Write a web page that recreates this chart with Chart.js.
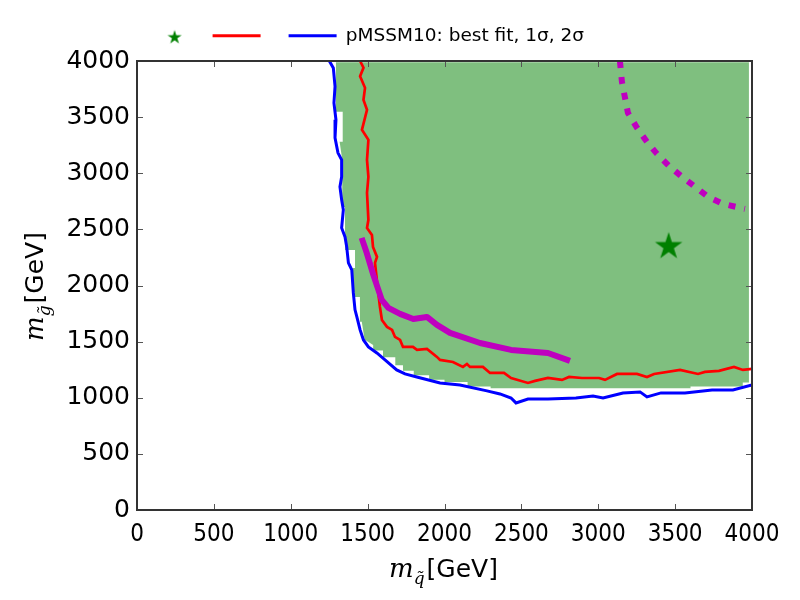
<!DOCTYPE html>
<html>
<head>
<meta charset="utf-8">
<script src="https://cdn.jsdelivr.net/npm/chart.js@4.4.1/dist/chart.umd.min.js"></script>
<style>html,body{margin:0;padding:0;background:#fff}</style>
</head>
<body>
<canvas id="chart" width="800" height="600"></canvas>
<script>
	// axis ticks (GeV)
	var tickValues = [ 0, 500, 1000, 1500, 2000, 2500, 3000, 3500, 4000 ];

	// best fit point
	var bestFit = [ [ 3458, 2347 ] ];

	// 1 sigma contour
	var sigma1 = [ [1451,4000],[1473,3940],[1451,3865],[1483,3761],[1473,3654],[1496,3565],[1463,3387],[1505,3298],
		[1496,3119],[1505,2968],[1496,2825],[1505,2585],[1496,2513],[1528,2451],[1535,2344],[1561,2255],[1548,2201],
		[1567,1961],[1580,1809],[1593,1693],[1626,1631],[1659,1604],[1678,1542],[1711,1515],[1730,1453],[1795,1453],
		[1821,1426],[1886,1435],[1951,1364],[1971,1337],[2055,1319],[2120,1275],[2146,1301],[2166,1275],[2250,1275],
		[2296,1221],[2387,1221],[2433,1176],[2543,1132],[2589,1150],[2673,1176],[2764,1159],[2810,1185],[2894,1176],
		[3005,1176],[3044,1159],[3122,1212],[3252,1212],[3317,1185],[3363,1212],[3532,1248],[3649,1212],[3694,1230],
		[3785,1239],[3883,1275],[3941,1248],[4000,1257] ];

	// 2 sigma contour
	var sigma2 = [ [1251,4000],[1277,3937],[1288,3773],[1281,3627],[1294,3476],[1288,3316],[1307,3182],[1331,3119],
		[1331,2968],[1320,2879],[1331,2763],[1342,2674],[1331,2513],[1353,2433],[1364,2344],[1375,2201],[1397,2139],
		[1407,1934],[1418,1783],[1430,1720],[1451,1604],[1473,1515],[1505,1453],[1560,1399],[1613,1337],[1689,1248],
		[1743,1212],[1820,1185],[1971,1132],[2101,1114],[2276,1061],[2361,1034],[2433,998],[2465,954],[2543,989],
		[2673,989],[2855,998],[2966,1016],[3031,998],[3161,1043],[3272,1052],[3317,1007],[3408,1043],[3564,1043],
		[3740,1070],[3876,1070],[4000,1114] ];

	// shaded allowed region
	var allowedRegion = [ [1294,3988],[1294,3547],[1338,3547],[1338,3280],[1318,3280],[1335,3119],[1335,2700],
		[1353,2700],[1353,2317],[1418,2317],[1418,2157],[1400,2157],[1410,1898],[1450,1898],[1450,1676],[1462,1676],
		[1480,1520],[1536,1470],[1536,1420],[1600,1420],[1600,1360],[1680,1360],[1680,1290],[1730,1290],[1730,1240],
		[1800,1240],[1800,1200],[1900,1200],[1900,1160],[2000,1160],[2000,1140],[2150,1140],[2150,1100],[2300,1100],
		[2300,1085],[3600,1085],[3600,1100],[3940,1100],[3940,1135],[3980,1135],[3980,3988] ];

	// exclusion curves
	var limitSolid = [ [1461,2424],[1494,2291],[1537,2095],[1592,1872],[1635,1800],[1711,1747],[1797,1702],[1886,1720],
		[1951,1649],[2036,1578],[2231,1488],[2433,1426],[2673,1399],[2816,1328] ];
	var limitDashed = [ [3141,4000],[3154,3815],[3174,3672],[3193,3538],[3252,3405],[3317,3280],[3382,3173],[3460,3066],
		[3545,2968],[3629,2879],[3714,2790],[3811,2727],[3922,2692],[3954,2683] ];

	var legendText = 'pMSSM10: best fit, 1σ, 2σ\u2003\u2002\u2009';

	function makeStar(R, shift, dy) {
		var c = document.createElement('canvas');
		var half = Math.ceil(R + Math.abs(shift) + 1);
		c.width = 2 * half;
		c.height = 2 * Math.ceil(R + Math.abs(dy) + 1);
		var g = c.getContext('2d');
		var cx = half + shift, cy = c.height / 2 + dy;
		g.beginPath();
		for (var i = 0; i < 10; i++) {
			var r = i % 2 ? R * 0.382 : R;
			var a = -Math.PI / 2 + i * Math.PI / 5;
			g.lineTo(cx + r * Math.cos(a), cy + r * Math.sin(a));
		}
		g.closePath();
		g.fillStyle = '#008000';
		g.fill();
		return c;
	}
	var bigStar = makeStar(14.4, 0, 0);
	var smallStar = makeStar(7.4, 14, 1.7);

	function drawAxisLabel(ctx, x, y, rot, sub) {
		ctx.save();
		ctx.translate(x, y);
		ctx.rotate(rot);
		ctx.fillStyle = '#000';
		ctx.textAlign = 'left';
		ctx.textBaseline = 'alphabetic';
		ctx.font = 'italic 26px "DejaVu Serif"';
		ctx.fillText('m', 0, 0);
		var w = ctx.measureText('m').width;
		ctx.font = 'italic 17px "DejaVu Serif"';
		ctx.fillText(sub, w, 7);
		w += ctx.measureText(sub).width + 2;
		ctx.font = '25px "DejaVu Sans"';
		ctx.fillText('[GeV]', w, 0);
		ctx.restore();
	}

	var frame = {
		id : 'frame',
		afterDatasetsDraw : function(chart) {
			var ctx = chart.ctx, a = chart.chartArea, x = chart.scales.x, y = chart.scales.y;
			ctx.save();
			ctx.strokeStyle = '#555';
			ctx.lineWidth = 1;
			ctx.beginPath();
			tickValues.forEach(function(v) {
				var px = Math.round(x.getPixelForValue(v)) + 0.5;
				ctx.moveTo(px, a.bottom); ctx.lineTo(px, a.bottom - 6);
				ctx.moveTo(px, a.top); ctx.lineTo(px, a.top + 6);
				var py = Math.round(y.getPixelForValue(v)) + 0.5;
				ctx.moveTo(a.left, py); ctx.lineTo(a.left + 6, py);
				ctx.moveTo(a.right, py); ctx.lineTo(a.right - 6, py);
			});
			ctx.stroke();
			ctx.strokeStyle = '#333';
			ctx.lineWidth = 2;
			ctx.strokeRect(a.left, a.top, a.right - a.left, a.bottom - a.top);
			ctx.restore();
		},
		afterDraw : function(chart) {
			drawAxisLabel(chart.ctx, 389, 577, 0, 'q\u0303');
			drawAxisLabel(chart.ctx, 43, 341, -Math.PI / 2, 'g\u0303');
		}
	};

	function plainTick(v) { return String(v); }

	var ctx = document.getElementById('chart');
	var myChart = new Chart(ctx, {
		type : 'scatter',
		data : {
			datasets : [ {
				label : 'best fit',
				data : bestFit,
				pointStyle : bigStar,
				pointRadius : 14
			}, {
				label : 'limit',
				data : limitSolid,
				showLine : true,
				borderColor : '#bf00bf',
				borderWidth : 6,
				borderCapStyle : 'butt',
				borderJoinStyle : 'round',
				pointRadius : 0
			}, {
				label : 'limit dashed',
				data : limitDashed,
				showLine : true,
				borderColor : '#bf00bf',
				borderWidth : 6,
				borderDash : [ 7, 9 ],
				borderCapStyle : 'butt',
				pointRadius : 0
			}, {
				label : '1 sigma',
				data : sigma1,
				showLine : true,
				borderColor : '#ff0000',
				borderWidth : 2.7,
				pointRadius : 0
			}, {
				label : '2 sigma',
				data : sigma2,
				showLine : true,
				borderColor : '#0000ff',
				borderWidth : 3,
				pointRadius : 0
			}, {
				label : 'region',
				data : allowedRegion,
				showLine : true,
				fill : 'shape',
				backgroundColor : 'rgba(0,128,0,0.5)',
				borderWidth : 0,
				borderColor : 'rgba(0,0,0,0)',
				pointRadius : 0
			} ]
		},
		options : {
			responsive : false,
			devicePixelRatio : 1,
			animation : false,
			layout : { padding : { top : 7.7, right : 48, left : 0, bottom : 0 } },
			plugins : {
				tooltip : { enabled : false },
				legend : {
					position : 'top',
					labels : {
						usePointStyle : true,
						pointStyleWidth : 48,
						padding : 18.75,
						color : '#000',
						font : { family : "'DejaVu Sans'", size : 18.5 },
						generateLabels : function() {
							return [
								{ text : '', pointStyle : smallStar, lineWidth : 0, strokeStyle : 'rgba(0,0,0,0)', fillStyle : 'rgba(0,0,0,0)', datasetIndex : 0 },
								{ text : '', pointStyle : 'line', lineWidth : 3, strokeStyle : '#ff0000', fillStyle : '#ff0000', datasetIndex : 3 },
								{ text : legendText, pointStyle : 'line', lineWidth : 3, strokeStyle : '#0000ff', fillStyle : '#0000ff', datasetIndex : 4 }
							];
						}
					}
				}
			},
			scales : {
				x : {
					type : 'linear',
					min : 0,
					max : 4000,
					ticks : { stepSize : 500, color : '#000', padding : 10, maxRotation : 0, autoSkip : false,
						callback : plainTick,
						font : { family : "'DejaVu Sans Condensed', 'DejaVu Sans'", size : 24 } },
					grid : { display : false, drawTicks : false },
					border : { display : false },
					afterFit : function(s) { s.height = 90; }
				},
				xTop : {
					type : 'linear',
					axis : 'x',
					position : 'top',
					min : 0,
					max : 4000,
					ticks : { display : false },
					grid : { display : false, drawTicks : false },
					border : { display : false },
					afterFit : function(s) { s.height = 6.05; }
				},
				y : {
					type : 'linear',
					min : 0,
					max : 4000,
					ticks : { stepSize : 500, color : '#000', padding : 7, callback : plainTick,
						font : { family : "'DejaVu Sans'", size : 25 } },
					grid : { display : false, drawTicks : false },
					border : { display : false },
					afterFit : function(s) { s.width = 137; }
				}
			}
		},
		plugins : [ frame ]
	});
</script>
</body>
</html>
